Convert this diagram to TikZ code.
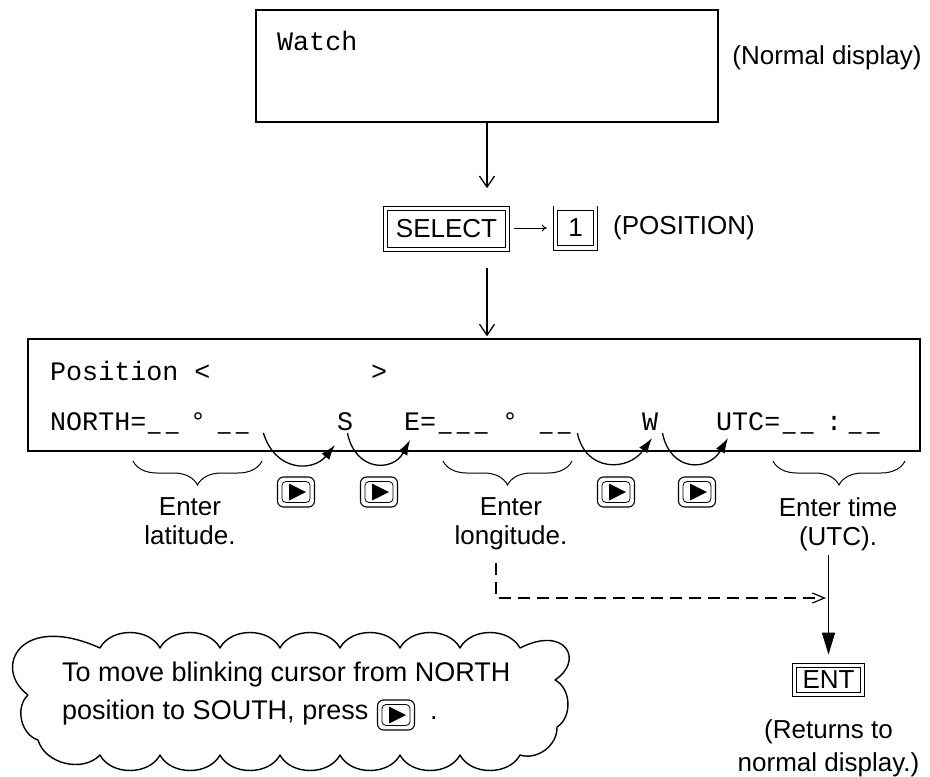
\documentclass[tikz,border=0pt]{standalone}
\usepackage{fontspec}
\setmainfont{Liberation Sans}
\newfontfamily\monof{Liberation Mono}
\usetikzlibrary{arrows.meta,decorations.pathreplacing,calc}
\newcommand\blk{\makebox[18pt]{\scalebox{0.8}[1.3]{\_}}}
\tikzset{
 lcd/.style={draw,line width=1.3pt,inner sep=0},
 mono/.style={font=\monof\fontsize{26.7}{30}\selectfont,inner sep=0,anchor=base west},
 sans/.style={font=\fontsize{26}{29}\selectfont,inner sep=0},
 keybox/.style={draw,double,double distance=3.5pt,line width=0.9pt,inner sep=0,font=\fontsize{26}{29}\selectfont},
 brc/.style={decorate,decoration={brace,mirror,amplitude=24pt},line width=1pt},
 curarr/.style={line width=1.3pt,-{Latex[length=15pt,width=10pt]}},
 flow/.style={line width=1.3pt,-{Straight Barb[length=11pt,width=15pt]}},
 cloudline/.style={line width=1.4pt,line join=round},
 fwdkey/.pic={
   \draw[line width=1.1pt,rounded corners=6pt] (-18.5,-15) rectangle (18.5,15);
   \draw[line width=0.8pt,rounded corners=4pt] (-14,-10.5) rectangle (14,10.5);
   \fill (-7,-8.5) -- (10,0) -- (-7,8.5) -- cycle;
 }
}
\begin{document}
\begin{tikzpicture}[x=1pt,y=1pt]
\useasboundingbox (0,0) rectangle (930,-777);

% top display
\node[lcd,minimum width=462,minimum height=112] (watch) at (487,-66) {};
\node[mono] (watchtxt) at (277,-50) {Watch};
\node[sans] (normal) at (827,-58) {(Normal display)};

% keys
\node[keybox,minimum width=121.7,minimum height=40.7] (sel) at (446.5,-229) {SELECT};
\node[keybox,minimum width=39.7,minimum height=39.7] (one) at (575.5,-228) {1};
\node[sans,anchor=west] (postxt) at (613,-228) {(POSITION)};
\draw[line width=1pt,-{To[length=5pt,width=7pt]},shorten <=6.5pt,shorten >=8.5pt] (sel.east |- one.west) -- (one.west);

% position display
\node[lcd,minimum width=892,minimum height=112] (pos) at (474,-395) {};
\node[mono] (row1) at (50,-380) {Position <};
\node[mono] (gt) at (371,-380) {>};

\node[mono] (north) at (50,-430) {NORTH=};
\node[mono] (lat1) at (145,-430) {\blk\blk};
\node[mono] (deg1) at (190,-430) {°};
\node[mono] (lat2) at (215,-430) {\blk\blk};
\node[mono] (S) at (337,-430) {S};
\node[mono] (E) at (404,-430) {E=};
\node[mono] (lon1) at (436,-430) {\blk\blk\blk};
\node[mono] (deg2) at (502,-430) {°};
\node[mono] (lon2) at (537,-430) {\blk\blk};
\node[mono] (W) at (642,-430) {W};
\node[mono] (utc) at (716,-430) {UTC=};
\node[mono] (utc1) at (780,-430) {\blk\blk};
\node[mono] (colon) at (826,-430) {:};
\node[mono] (utc2) at (846,-430) {\blk\blk};

% flow arrows
\draw[flow,shorten >=20pt] (watch.south) -- (watch.south |- sel.north);
\draw[flow,shorten <=18.6pt,shorten >=2pt] (watch.south |- sel.south) -- (watch.south |- pos.north);

% cursor arcs
\draw[curarr] ($(lat2.base east)+(12,-3)$) .. controls ($(lat2.base east)+(24,-42)$) and ($(S.base west)+(-24,-42)$) .. ($(S.base west)+(-2,-15)$);
\draw[curarr] ($(S.base east)+(-6,-3)$) .. controls ($(S.base east)+(2,-42)$) and ($(E.base west)+(-11,-42)$) .. ($(E.base west)+(6,-10)$);
\draw[curarr] ($(lon2.base east)+(4,-3)$) .. controls ($(lon2.base east)+(12,-42)$) and ($(W.base west)+(-14,-42)$) .. ($(W.base west)+(10,-8)$);
\draw[curarr] ($(W.base east)+(4,-3)$) .. controls ($(W.base east)+(12,-42)$) and ($(utc.base west)+(-8,-42)$) .. ($(utc.base west)+(12,-8)$);

% braces
\draw[brc] (133,-461) -- (262,-461);
\draw[brc] (443,-461) -- (572,-461);
\draw[brc] (773,-461) -- (905,-461);

% keys under the display
\pic at (296,-492) {fwdkey};
\pic at (379,-492) {fwdkey};
\pic at (616,-492) {fwdkey};
\pic at (697,-492) {fwdkey};

% labels
\node[sans,align=center,anchor=north] (latlbl) at (190,-497) {Enter\\latitude.};
\node[sans,align=center,anchor=north] (lonlbl) at (511,-497) {Enter\\longitude.};
\node[sans,align=center,anchor=north] (utclbl) at (838,-497) {Enter time\\(UTC).};

% ENT
\node[keybox,minimum width=67.7,minimum height=28.7] (ent) at (828.5,-680) {ENT};
\node[sans,align=center,anchor=north,font=\fontsize{26}{33}\selectfont] (ret) at (828.5,-719) {(Returns to\\normal display.)};

\coordinate (vtop) at (828.5,-555);
\draw[line width=1.3pt,-{Triangle[length=22pt,width=13pt]},shorten >=10.6pt] (vtop) -- (ent.north);
\coordinate (dstart) at (496,-563);
\coordinate (djoin) at (826,-598);
\draw[line width=1.2pt,dash pattern=on 12pt off 7pt,-{Straight Barb[length=12pt,width=10pt]}] (dstart) |- (djoin);

% cloud
\draw[cloudline] (28,-695) .. controls (-8,-668) and (20,-612) .. (100,-648)
  to[bend left=62] (160,-648) to[bend left=62] (220,-648) to[bend left=62] (280,-648)
  to[bend left=62] (340,-648) to[bend left=62] (400,-648) to[bend left=62] (460,-648)
  to[bend left=62] (520,-648)
  .. controls (565,-625) and (585,-660) .. (555,-680)
  to[bend left=60] (557,-727)
  to[bend left=55] (520,-755)
  to[bend left=62] (460,-755) to[bend left=62] (400,-755) to[bend left=62] (340,-755)
  to[bend left=62] (280,-755) to[bend left=62] (220,-755) to[bend left=62] (160,-755)
  to[bend left=62] (100,-755)
  to[bend left=60] (38,-740)
  to[bend left=60] (28,-695);
\node[sans,anchor=base west,font=\fontsize{27}{30}\selectfont] (cl1) at (62,-681) {To move blinking cursor from NORTH};
\node[sans,anchor=base west,font=\fontsize{27}{30}\selectfont] (cl2) at (62,-719) {position to SOUTH, press};
\pic at (396,-715) {fwdkey};
\node[sans,anchor=base west,font=\fontsize{27}{30}\selectfont] (cldot) at (430,-719) {.};
\end{tikzpicture}
\end{document}
